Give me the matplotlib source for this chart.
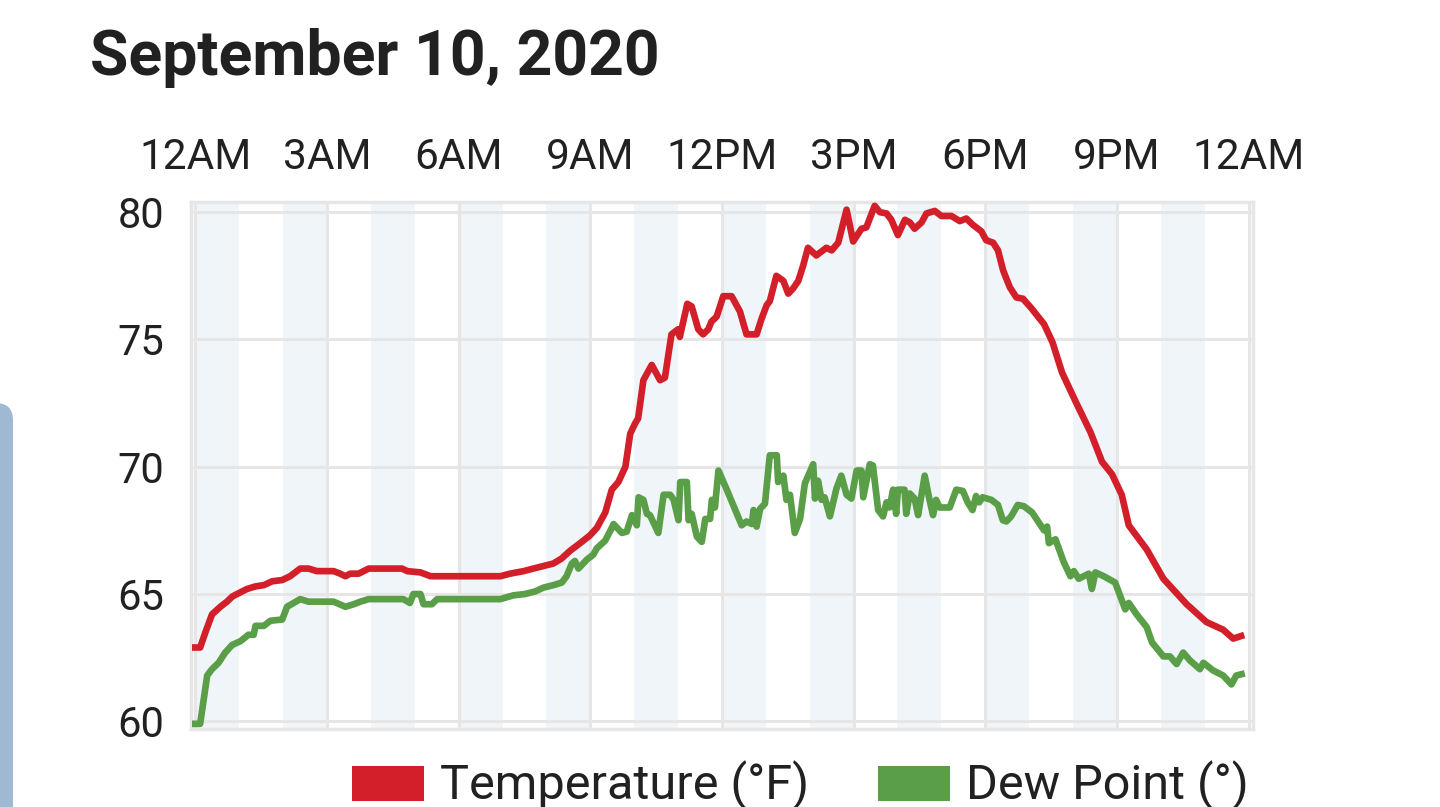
import matplotlib
matplotlib.use("Agg")
import matplotlib.pyplot as plt
from matplotlib.patches import Rectangle, FancyBboxPatch

plt.rcParams['font.family'] = ['Roboto', 'DejaVu Sans']

# hour of day (decimal) and temperature in F
temp_hours = [0.00, 0.11, 0.23, 0.38, 0.57, 0.72, 0.84, 0.95, 1.18, 1.37, 1.56, 1.75, 1.98,
              2.16, 2.39, 2.58, 2.77, 3.15, 3.30, 3.42, 3.53, 3.72, 3.95, 4.71, 4.83, 5.13,
              5.36, 5.51, 6.95, 7.17, 7.48, 7.70, 7.93, 8.16, 8.35, 8.54, 8.77, 8.99, 9.15,
              9.34, 9.49, 9.64, 9.80, 9.91, 10.02, 10.09, 10.21, 10.40, 10.59, 10.70, 10.85,
              11.00, 11.04, 11.21, 11.31, 11.46, 11.57, 11.69, 11.76, 11.88, 12.03, 12.22,
              12.41, 12.56, 12.79, 12.90, 13.02, 13.09, 13.24, 13.40, 13.51, 13.62, 13.74,
              13.85, 13.96, 14.15, 14.38, 14.50, 14.65, 14.84, 14.99, 15.18, 15.29, 15.48,
              15.60, 15.75, 15.86, 16.01, 16.17, 16.28, 16.39, 16.55, 16.66, 16.85, 17.00,
              17.23, 17.42, 17.57, 17.72, 17.91, 18.02, 18.18, 18.29, 18.41, 18.56, 18.71,
              18.86, 19.04, 19.34, 19.53, 19.75, 20.09, 20.40, 20.66, 20.89, 21.11, 21.27,
              21.68, 22.06, 22.59, 23.04, 23.42, 23.65, 23.83]
temperature = [62.9, 62.9, 63.5, 64.2, 64.5, 64.7, 64.9, 65.0, 65.2, 65.3, 65.35, 65.5, 65.55,
               65.7, 66.0, 66.0, 65.9, 65.9, 65.8, 65.7, 65.8, 65.8, 66.0, 66.0, 65.9, 65.85,
               65.7, 65.7, 65.7, 65.8, 65.9, 66.0, 66.1, 66.2, 66.4, 66.7, 67.0, 67.3, 67.6,
               68.2, 69.1, 69.4, 70.0, 71.3, 71.7, 71.9, 73.4, 74.0, 73.4, 73.5, 75.2,
               75.4, 75.1, 76.4, 76.3, 75.4, 75.2, 75.4, 75.7, 75.9, 76.7, 76.7,
               76.1, 75.2, 75.2, 75.8, 76.35, 76.5, 77.5, 77.3, 76.8, 77.0, 77.3,
               77.9, 78.6, 78.3, 78.6, 78.5, 78.8, 80.1, 78.85, 79.35, 79.4, 80.25,
               80.0, 79.95, 79.7, 79.1, 79.7, 79.6, 79.35, 79.6, 79.95, 80.05, 79.85,
               79.85, 79.65, 79.75, 79.5, 79.25, 78.9, 78.8, 78.5, 77.7, 77.05, 76.65,
               76.6, 76.25, 75.6, 74.9, 73.7, 72.45, 71.35, 70.2, 69.7, 68.9, 67.7,
               66.75, 65.6, 64.6, 63.9, 63.6, 63.25, 63.35]

# hour of day (decimal) and dew point
dew_hours = [0.00, 0.11, 0.27, 0.38, 0.53, 0.68, 0.84, 1.03, 1.21, 1.33, 1.37, 1.56, 1.71,
             1.98, 2.09, 2.24, 2.39, 2.58, 3.15, 3.42, 3.61, 3.76, 3.95, 4.74, 4.89, 4.97,
             5.13, 5.20, 5.39, 5.51, 6.95, 7.25, 7.51, 7.74, 7.93, 8.16, 8.35, 8.46, 8.58,
             8.65, 8.73, 8.92, 9.07, 9.15, 9.34, 9.49, 9.53, 9.72, 9.83, 9.95, 10.06, 10.10,
             10.21, 10.29, 10.36, 10.55, 10.67, 10.82, 10.90, 11.01, 11.05, 11.20, 11.24,
             11.31, 11.43, 11.54, 11.62, 11.73, 11.77, 11.84, 11.92, 12.11, 12.45, 12.56,
             12.68, 12.72, 12.79, 12.87, 12.98, 13.09, 13.25, 13.28, 13.40, 13.47, 13.55,
             13.66, 13.78, 13.89, 14.08, 14.12, 14.19, 14.27, 14.34, 14.46, 14.61, 14.72,
             14.84, 14.95, 15.07, 15.18, 15.22, 15.37, 15.44, 15.56, 15.67, 15.75, 15.82,
             15.90, 15.97, 16.01, 16.16, 16.20, 16.28, 16.39, 16.47, 16.62, 16.73, 16.81,
             16.88, 16.96, 17.19, 17.34, 17.49, 17.60, 17.71, 17.79, 17.86, 17.94, 18.14,
             18.29, 18.40, 18.48, 18.59, 18.74, 18.88, 19.07, 19.34, 19.41, 19.45, 19.60,
             19.79, 19.94, 20.02, 20.13, 20.36, 20.43, 20.51, 20.70, 20.96, 21.19, 21.27,
             21.45, 21.68, 21.80, 22.06, 22.21, 22.36, 22.51, 22.66, 22.89, 22.97, 23.19,
             23.42, 23.61, 23.72, 23.84]
dew_point = [59.9, 59.9, 61.8, 62.05, 62.3, 62.7, 63.0, 63.15, 63.4, 63.4, 63.75, 63.75, 63.95,
             64.0, 64.5, 64.65, 64.8, 64.7, 64.7, 64.5, 64.6, 64.7, 64.8, 64.8, 64.65, 65.0,
             65.0, 64.6, 64.6, 64.8, 64.8, 64.95, 65.0, 65.1, 65.25, 65.35, 65.45, 65.7, 66.2,
             66.3, 66.0, 66.35, 66.55, 66.8, 67.1, 67.6, 67.75, 67.4, 67.45, 68.1, 67.7, 68.8,
             68.7, 68.15, 68.1, 67.4, 68.9, 68.9, 68.7, 67.9, 69.4, 69.4, 67.9,
             68.15, 67.25, 67.05, 67.95, 67.95, 68.7, 68.4, 69.85, 69.1, 67.7, 67.85,
             67.75, 68.3, 67.65, 68.35, 68.55, 70.45, 70.45, 69.4, 69.65, 68.7, 68.9,
             67.4, 67.95, 69.35, 70.1, 68.75, 69.45, 68.7, 68.8, 68.05, 69.15, 69.65,
             68.9, 68.75, 69.85, 69.85, 68.8, 70.1, 70.05, 68.3, 68.05, 68.6, 68.4,
             69.1, 68.15, 69.1, 69.1, 68.15, 68.95, 68.75, 68.1, 69.65, 68.7, 68.1,
             68.7, 68.4, 68.4, 69.1, 69.05, 68.6, 68.3, 68.85, 68.6, 68.8, 68.7,
             68.5, 67.9, 67.85, 68.05, 68.5, 68.45, 68.2, 67.5, 67.65, 67.0, 67.15,
             66.25, 65.7, 65.9, 65.6, 65.8, 65.2, 65.85, 65.7, 65.45, 64.4, 64.65,
             64.2, 63.7, 63.1, 62.55, 62.55, 62.25, 62.7, 62.4, 62.05, 62.3, 62.0,
             61.8, 61.45, 61.8, 61.85]

hour_ticks = [0, 3, 6, 9, 12, 15, 18, 21, 24]
hour_labels = ['12AM', '3AM', '6AM', '9AM', '12PM', '3PM', '6PM', '9PM', '12AM']
temp_ticks = [60, 65, 70, 75, 80]

red = '#d31f2a'
green = '#5a9e48'
grid_col = '#e6e6e6'
band_col = '#f0f5fa'
text_col = '#212121'

fig = plt.figure(figsize=(14.4, 8.07), dpi=100)
ax = fig.add_axes([0.1326, 0.0967, 0.7375, 0.6530])

# alternating hour bands
for h in range(0, 24, 2):
    ax.axvspan(h, h + 1, color=band_col, lw=0, zorder=0)

ax.plot(temp_hours, temperature, color=red, lw=4.8, zorder=3)
ax.plot(dew_hours, dew_point, color=green, lw=4.8, zorder=3)

ax.set_xlim(-0.1, 24.1)
ax.set_ylim(59.7, 80.4)
ax.set_xticks(hour_ticks)
ax.set_xticklabels(hour_labels)
ax.set_yticks(temp_ticks)
ax.xaxis.tick_top()
ax.tick_params(axis='x', length=0, pad=17, labelsize=30.5, labelcolor=text_col)
ax.tick_params(axis='y', length=0, pad=19, labelsize=30, labelcolor=text_col)
ax.grid(True, color=grid_col, lw=2.2, zorder=1)
ax.set_axisbelow(True)
for s in ax.spines.values():
    s.set_color(grid_col)
    s.set_linewidth(2.5)

fig.text(0.0625, 0.907, 'September 10, 2020', fontsize=45, fontweight='bold',
         color=text_col, va='baseline', ha='left')

# legend
fig.add_artist(Rectangle((352 / 1440, 1 - 801 / 807), 72 / 1440, 35 / 807,
                         transform=fig.transFigure, color=red, lw=0))
fig.text(440 / 1440, 1 - 799 / 807, 'Temperature (°F)', fontsize=35, color=text_col,
         va='baseline', ha='left')
fig.add_artist(Rectangle((878 / 1440, 1 - 801 / 807), 72 / 1440, 35 / 807,
                         transform=fig.transFigure, color=green, lw=0))
fig.text(966 / 1440, 1 - 799 / 807, 'Dew Point (°)', fontsize=35, color=text_col,
         va='baseline', ha='left')

# side panel edge on the left
fig.add_artist(FancyBboxPatch((-20 / 1440, -0.05), 33 / 1440, 1 - 403 / 807 + 0.05,
                              boxstyle='round,pad=0,rounding_size=0.012',
                              transform=fig.transFigure, color='#9fb9d3', lw=0,
                              mutation_aspect=1440 / 807))

fig.savefig('out.png', dpi=100)
